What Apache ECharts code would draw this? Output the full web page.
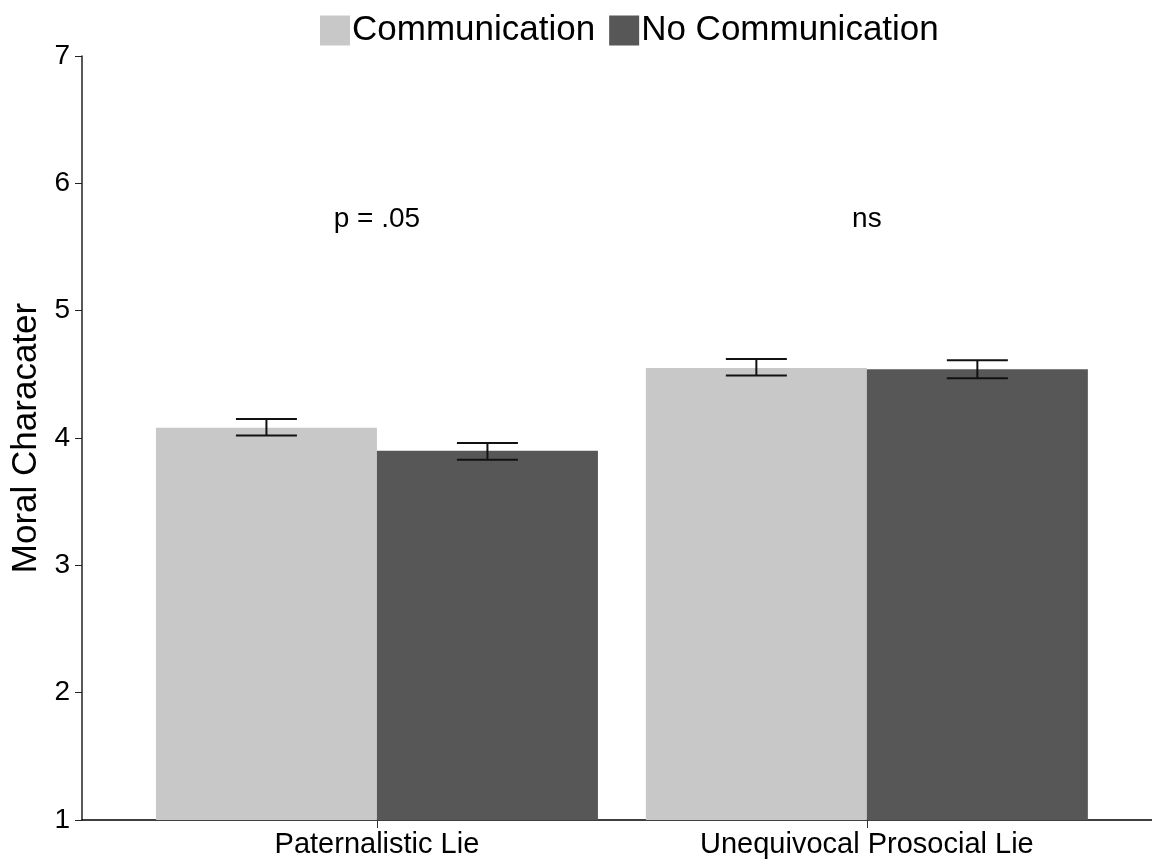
<!DOCTYPE html>
<html>
<head>
<meta charset="utf-8">
<script src="https://cdn.jsdelivr.net/npm/echarts@6/dist/echarts.min.js"></script>
<style>
html, body { margin: 0; padding: 0; background: #fff; }
#chart { width: 1152px; height: 861px; }
</style>
</head>
<body>
<div id="chart"></div>
<script>
// data
var categories = ['Paternalistic Lie', 'Unequivocal Prosocial Lie'];
var commMeans = [4.08, 4.55];
var commLow = [4.02, 4.49];
var commHigh = [4.15, 4.62];
var noCommMeans = [3.90, 4.54];
var noCommLow = [3.83, 4.47];
var noCommHigh = [3.96, 4.61];
var notes = ['p = .05', 'ns'];
var noteY = 5.72;

var FONT = 'Liberation Sans, Arial, Helvetica, sans-serif';
var BAR_W = 221;

var myChart = echarts.init(document.getElementById('chart'));

function errSeries(low, high, shift) {
    return {
        type: 'custom',
        silent: true,
        z: 5,
        data: categories.map(function (c, i) { return [i, low[i], high[i]]; }),
        renderItem: function (params, api) {
            var lo = api.coord([api.value(0), api.value(1)]);
            var hi = api.coord([api.value(0), api.value(2)]);
            var x = lo[0] + shift;
            var half = 30.5;
            var st = { stroke: '#111', lineWidth: 2 };
            return {
                type: 'group',
                children: [
                    { type: 'line', shape: { x1: x, y1: lo[1], x2: x, y2: hi[1] }, style: st },
                    { type: 'line', shape: { x1: x - half, y1: lo[1], x2: x + half, y2: lo[1] }, style: st },
                    { type: 'line', shape: { x1: x - half, y1: hi[1], x2: x + half, y2: hi[1] }, style: st }
                ]
            };
        }
    };
}

myChart.setOption({
    animation: false,
    backgroundColor: '#fff',
    textStyle: { fontFamily: FONT },
    legend: {
        left: 315,
        top: 8,
        itemWidth: 30,
        itemHeight: 30,
        itemGap: 14,
        icon: 'rect',
        textStyle: { fontSize: 35, color: '#000', fontFamily: FONT, padding: [0, 0, 0, -3] },
        data: ['Communication', 'No Communication']
    },
    grid: { left: 82, right: 0, top: 56, bottom: 41 },
    xAxis: {
        type: 'value',
        min: -0.602,
        max: 1.582,
        splitLine: { show: false },
        axisLine: { show: true, onZero: false, lineStyle: { color: '#000', width: 1.5 } },
        axisTick: { show: true, customValues: [0, 1], length: 8, lineStyle: { color: '#333', width: 1 } },
        axisLabel: {
            customValues: [0, 1],
            margin: 10,
            fontSize: 29,
            color: '#000',
            fontFamily: FONT,
            formatter: function (v) { return categories[Math.round(v)]; }
        }
    },
    yAxis: {
        type: 'value',
        min: 1,
        max: 7,
        interval: 1,
        name: 'Moral Characater',
        nameLocation: 'middle',
        nameGap: 38,
        nameTextStyle: { fontSize: 35, color: '#000', fontFamily: FONT },
        splitLine: { show: false },
        axisLine: { show: true, onZero: false, lineStyle: { color: '#222', width: 1.5 } },
        axisTick: { show: true, length: 7, lineStyle: { color: '#222', width: 1 } },
        axisLabel: { fontSize: 28, color: '#000', margin: 12, fontFamily: FONT }
    },
    series: [
        {
            name: 'Communication',
            type: 'bar',
            barWidth: BAR_W,
            barGap: '0%',
            itemStyle: { color: '#c8c8c8' },
            data: categories.map(function (c, i) { return [i, commMeans[i]]; })
        },
        {
            name: 'No Communication',
            type: 'bar',
            barWidth: BAR_W,
            barGap: '0%',
            itemStyle: { color: '#575757' },
            data: categories.map(function (c, i) { return [i, noCommMeans[i]]; })
        },
        errSeries(commLow, commHigh, -BAR_W / 2),
        errSeries(noCommLow, noCommHigh, BAR_W / 2),
        {
            type: 'scatter',
            symbolSize: 0,
            silent: true,
            itemStyle: { opacity: 1 },
            data: categories.map(function (c, i) { return [i, noteY]; }),
            label: {
                show: true,
                position: 'inside',
                fontSize: 28,
                color: '#000',
                opacity: 1,
                textBorderWidth: 0,
                fontFamily: FONT,
                formatter: function (p) { return notes[p.dataIndex]; }
            }
        }
    ]
});

window.onresize = function () {
    myChart.resize();
};
</script>
</body>
</html>
